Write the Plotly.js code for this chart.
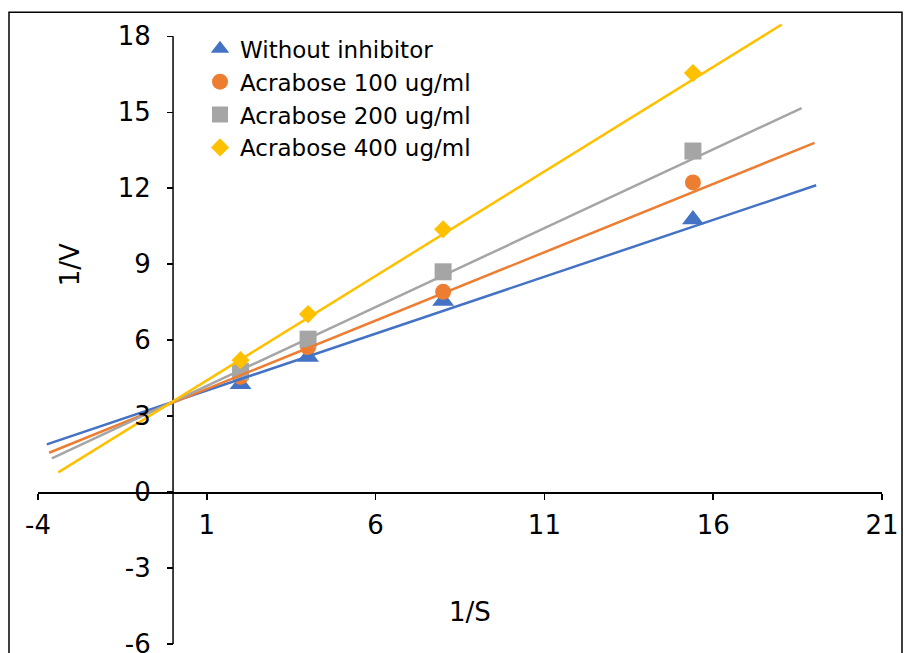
<!DOCTYPE html>
<html>
<head>
<meta charset="utf-8">
<script src="https://cdn.plot.ly/plotly-3.0.1.min.js"></script>
<style>
  html, body { margin: 0; padding: 0; background: #fff; }
  #chart { width: 904px; height: 653px; }
</style>
</head>
<body>
<div id="chart"></div>
<script>
// ---- data ----
const xValues = [2, 4, 8, 15.4];                 // 1/S
const seriesNames = ["Without inhibitor", "Acrabose 100 ug/ml", "Acrabose 200 ug/ml", "Acrabose 400 ug/ml"];
const yWithout = [4.26, 5.33, 7.55, 10.77];      // 1/V
const y100 = [4.55, 5.72, 7.91, 12.23];
const y200 = [4.76, 6.04, 8.70, 13.47];
const y400 = [5.21, 7.03, 10.38, 16.55];
// linear trend lines (slope, intercept, extent in 1/S)
const trendSlope = [0.4492, 0.5398, 0.6230, 0.8256];
const trendIntercept = [3.563, 3.534, 3.568, 3.583];
const trendXStart = [-3.74, -3.67, -3.59, -3.40];
const trendXEnd = [19.05, 19.00, 18.62, 18.03];
// axis ticks
const xTicks = [-4, 1, 6, 11, 16, 21];
const yTicks = [-6, -3, 0, 3, 6, 9, 12, 15, 18];

// ---- styling ----
const colors = ["#4472C4", "#ED7D31", "#A5A5A5", "#FFC000"];
const symbols = ["triangle-up", "circle", "square", "diamond"];
const sizes = [19, 16, 17, 14];
const FONT = "DejaVu Sans, Arial, sans-serif";

const seriesY = [yWithout, y100, y200, y400];
const traces = [];
seriesY.forEach((ys, i) => {
  traces.push({
    type: "scatter", mode: "markers", name: seriesNames[i],
    x: xValues, y: ys, legendgroup: "g" + i, cliponaxis: false,
    marker: { symbol: symbols[i], size: sizes[i], color: colors[i], line: { width: 0 } },
    hoverinfo: "x+y"
  });
});
seriesY.forEach((ys, i) => {
  const xs = [trendXStart[i], trendXEnd[i]];
  traces.push({
    type: "scatter", mode: "lines", showlegend: false, legendgroup: "g" + i,
    x: xs, y: xs.map(v => trendSlope[i] * v + trendIntercept[i]),
    line: { color: colors[i], width: 2.5 }, hoverinfo: "skip"
  });
});

// plot area: x -4..21 spans px 38..882; y -6..19 spans px 644..~10.7 (18 at px 36)
const W = 904, H = 653;
const L = 38, R = 22, B = 9;
const unitY = 608 / 24;
const T = 36 - unitY;            // y range top = 19
const pw = W - L - R, ph = H - T - B;
const px2x = p => (p - L) / pw;
const px2y = p => (H - B - p) / ph;

const axisCommon = {
  showgrid: false, zeroline: false,
  ticks: "outside", ticklen: 6, tickcolor: "#000", tickwidth: 1.5,
  tickfont: { family: FONT, size: 26, color: "#000" }, automargin: false,
  anchor: "free", fixedrange: true, ticklabeloverflow: "allow"
};

const layout = {
  width: W, height: H,
  margin: { l: L, r: R, t: T, b: B, pad: 0 },
  paper_bgcolor: "#fff", plot_bgcolor: "#fff",
  showlegend: true,
  xaxis: Object.assign({}, axisCommon, {
    range: [-4, 21], tickmode: "array", tickvals: xTicks, ticktext: xTicks.map(String),
    showline: true, linecolor: "#000", linewidth: 1.5,
    position: px2y(492), ticklabelstandoff: 3
  }),
  yaxis: Object.assign({}, axisCommon, {
    range: [-6, 19], tickmode: "array", tickvals: yTicks, ticktext: yTicks.map(String),
    showline: false,
    position: px2x(173), ticklabelstandoff: 11
  }),
  legend: {
    x: px2x(200), y: px2y(27), xanchor: "left", yanchor: "top",
    bgcolor: "rgba(0,0,0,0)", borderwidth: 0,
    font: { family: FONT, size: 23, color: "#000" },
    traceorder: "grouped", tracegroupgap: 0, itemclick: false
  },
  annotations: [
    { text: "1/V", xref: "paper", yref: "paper", x: px2x(70), y: px2y(265),
      textangle: -90, showarrow: false, font: { family: FONT, size: 26, color: "#000" },
      xanchor: "center", yanchor: "middle" },
    { text: "1/S", xref: "paper", yref: "paper", x: px2x(470), y: px2y(612),
      showarrow: false, font: { family: FONT, size: 26, color: "#000" },
      xanchor: "center", yanchor: "middle" }
  ],
  shapes: [
    // y axis line from -6 to 18 at 1/S = 0
    { type: "line", xref: "x", yref: "y", x0: 0, x1: 0, y0: yTicks[0], y1: yTicks[yTicks.length - 1],
      line: { color: "#000", width: 1.5 }, layer: "below" },
    // chart frame
    { type: "rect", xref: "paper", yref: "paper",
      x0: px2x(9), x1: px2x(902), y0: px2y(665), y1: px2y(12),
      line: { color: "#000", width: 1.5 }, fillcolor: "rgba(0,0,0,0)", layer: "below" }
  ]
};

Plotly.newPlot("chart", traces, layout, { displayModeBar: false, staticPlot: true });
</script>
</body>
</html>
